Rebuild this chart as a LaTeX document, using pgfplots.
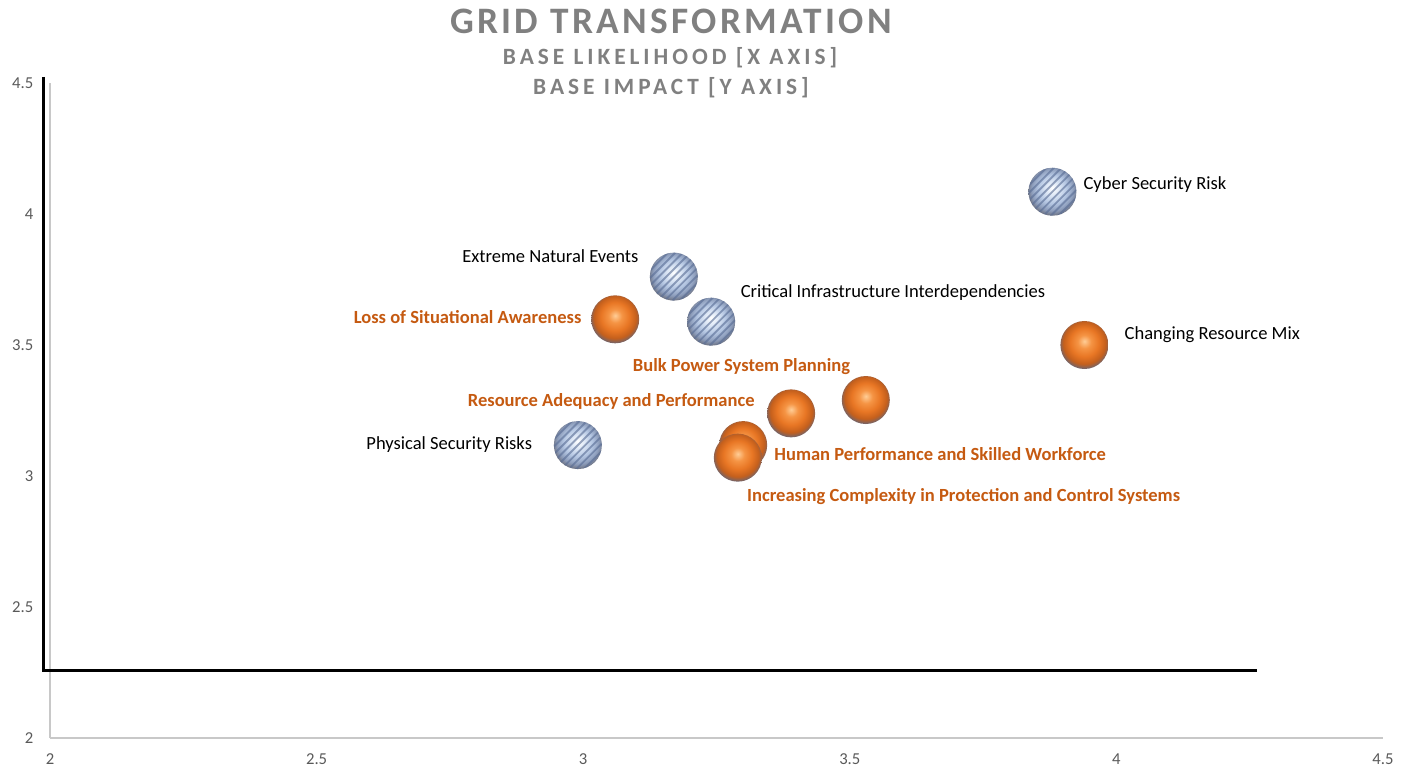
\documentclass[border=0pt]{standalone}
\usepackage{pgfplots}
\pgfplotsset{compat=1.18}
\usepackage{fontspec}
\setmainfont{Carlito}
\newfontfamily\titlefont[LetterSpace=9]{Carlito}
\newfontfamily\subfont[LetterSpace=17]{Carlito}
\definecolor{titlegray}{RGB}{128,128,128}
\definecolor{tickgray}{RGB}{89,89,89}
\definecolor{axgray}{RGB}{200,200,200}
\definecolor{lblorange}{RGB}{197,90,17}
\definecolor{stripeblue}{RGB}{88,108,148}
% orange ball colours
\definecolor{oba}{RGB}{255,205,150}
\definecolor{obb}{RGB}{245,148,68}
\definecolor{obc}{RGB}{232,118,36}
\definecolor{obd}{RGB}{196,95,28}
\definecolor{obe}{RGB}{115,100,106}
% blue ball colours
\definecolor{bba}{RGB}{255,255,255}
\definecolor{bbb}{RGB}{222,232,246}
\definecolor{bbc}{RGB}{180,198,226}
\definecolor{bbd}{RGB}{140,156,186}
\definecolor{bbe}{RGB}{108,112,126}

\pgfdeclareradialshading{orangeball}{\pgfpoint{0bp}{4bp}}{%
  color(0bp)=(oba); color(7bp)=(obb); color(15bp)=(obc); color(22bp)=(obd);
  color(26.5bp)=(obe); color(50bp)=(obe)}
\pgfdeclareradialshading{blueball}{\pgfpoint{0bp}{4bp}}{%
  color(0bp)=(bba); color(7bp)=(bbb); color(15bp)=(bbc); color(22bp)=(bbd);
  color(27bp)=(bbe); color(50bp)=(bbe)}

\pgfdeclareplotmark{oball}{%
  \pgfpathcircle{\pgfpointorigin}{\pgfplotmarksize}%
  \pgfshadepath{orangeball}{0}%
  \pgfusepath{}%
}
\pgfdeclareplotmark{hatchball}{%
  \pgfpathcircle{\pgfpointorigin}{\pgfplotmarksize}%
  \pgfshadepath{blueball}{0}%
  \pgfusepath{}%
  \pgfscope
    \pgfpathcircle{\pgfpointorigin}{\pgfplotmarksize}%
    \pgfusepath{clip}%
    \pgfsetlinewidth{1.4pt}%
    \pgfsetstrokecolor{stripeblue}%
    \pgfsetstrokeopacity{0.6}%
    \foreach \k in {-7,...,7}{%
      \pgfpathmoveto{\pgfpoint{-30pt}{\k*5.6pt-30pt}}%
      \pgfpathlineto{\pgfpoint{30pt}{\k*5.6pt+30pt}}%
      \pgfusepath{stroke}%
    }%
  \endpgfscope
}

\begin{document}
\begin{tikzpicture}[x=1pt,y=1pt]
\useasboundingbox (0,0) rectangle (1059.75,579);
\node[font=\titlefont\bfseries\fontsize{28}{30}\selectfont, text=titlegray] at (503.25,563.25) {GRID TRANSFORMATION};
\node[font=\subfont\bfseries\fontsize{17.5}{20}\selectfont, text=titlegray] at (502.5,535.9) {BASE LIKELIHOOD [X AXIS]};
\node[font=\subfont\bfseries\fontsize{17.5}{20}\selectfont, text=titlegray] at (503.25,513.4) {BASE IMPACT [Y AXIS]};
\begin{axis}[
  at={(37.5pt,25.5pt)}, anchor=south west,
  scale only axis, width=999.75pt, height=491.25pt,
  xmin=2, xmax=4.5, ymin=2, ymax=4.5,
  xtick={2,2.5,3,3.5,4,4.5}, ytick={2,2.5,3,3.5,4,4.5},
  axis x line*=bottom, axis y line*=left,
  axis line style={draw=axgray, line width=0.9pt, -},
  major tick length=0pt,
  tick label style={font=\fontsize{12.5}{14}\selectfont, text=tickgray, /pgf/number format/assume math mode=true},
  xticklabel shift=8.5pt, yticklabel shift=9pt,
  clip=false,
  mark size=18pt,
]
% thick black frame lines
\addplot[black, line width=2.25pt, line join=miter, mark=none] coordinates {(1.9887,4.523) (1.9887,2.2595) (4.264,2.2595)};
% blue series
\addplot[only marks, mark=hatchball] coordinates {
 (3.88,4.085) (3.17,3.761) (3.24,3.589) (2.99,3.118)
};
% orange series
\addplot[only marks, mark=oball] coordinates {
 (3.06,3.598) (3.94,3.50) (3.53,3.29) (3.39,3.239) (3.30,3.118) (3.29,3.070)
};
% labels
\begin{scope}[every node/.style={inner sep=0pt, font=\fontsize{13.9}{16}\selectfont}]
\node[anchor=base west] at (axis cs:3.938,4.095) {Cyber Security Risk};
\node[anchor=base east] at (axis cs:3.104,3.816) {Extreme Natural Events};
\node[anchor=base west] at (axis cs:3.295,3.682) {Critical Infrastructure Interdependencies};
\node[anchor=base west] at (axis cs:4.015,3.522) {Changing Resource Mix};
\node[anchor=base east] at (axis cs:2.9045,3.103) {Physical Security Risks};
\node[anchor=base east, text=lblorange, font=\bfseries\fontsize{13.9}{16}\selectfont] at (axis cs:2.997,3.582) {Loss of Situational Awareness};
\node[anchor=base west, text=lblorange, font=\bfseries\fontsize{13.9}{16}\selectfont] at (axis cs:3.0928,3.398) {Bulk Power System Planning};
\node[anchor=base east, text=lblorange, font=\bfseries\fontsize{13.9}{16}\selectfont] at (axis cs:3.322,3.2645) {Resource Adequacy and Performance};
\node[anchor=base west, text=lblorange, font=\bfseries\fontsize{13.9}{16}\selectfont] at (axis cs:3.358,3.061) {Human Performance and Skilled Workforce};
\node[anchor=base west, text=lblorange, font=\bfseries\fontsize{13.9}{16}\selectfont] at (axis cs:3.307,2.902) {Increasing Complexity in Protection and Control Systems};
\end{scope}
\end{axis}
\end{tikzpicture}
\end{document}
